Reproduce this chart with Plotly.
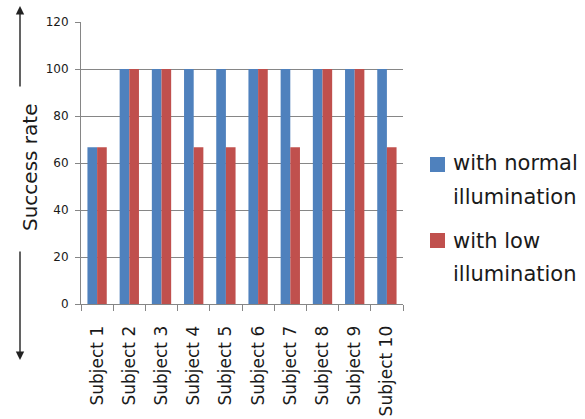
import plotly.graph_objects as go

categories = ["Subject 1", "Subject 2", "Subject 3", "Subject 4", "Subject 5",
              "Subject 6", "Subject 7", "Subject 8", "Subject 9", "Subject 10"]
normal = [66.67, 100, 100, 100, 100, 100, 100, 100, 100, 100]
low = [66.67, 100, 100, 66.67, 66.67, 100, 66.67, 100, 100, 66.67]
y_ticks = [0, 20, 40, 60, 80, 100, 120]
series_names = ["with normal", "with low"]
series_colors = ["#4F81BD", "#C0504D"]

FONT = "DejaVu Sans, Open Sans, sans-serif"
TXT = "#1a1a1a"

fig = go.Figure()
fig.add_trace(go.Bar(x=categories, y=normal, name=series_names[0] + " illumination",
                     marker=dict(color=series_colors[0], line=dict(width=0))))
fig.add_trace(go.Bar(x=categories, y=low, name=series_names[1] + " illumination",
                     marker=dict(color=series_colors[1], line=dict(width=0))))

W, H = 585, 419
L, R, T, B = 81, 182, 22, 115
pw, ph = W - L - R, H - T - B

def px_x(x):
    return (x - L) / pw

def px_y(y):
    return (H - B - y) / ph

fig.update_layout(
    width=W, height=H,
    margin=dict(l=L, r=R, t=T, b=B, autoexpand=False),
    paper_bgcolor="white", plot_bgcolor="white",
    barmode="group", bargap=0.4, bargroupgap=0,
    font=dict(family=FONT, color=TXT),
    showlegend=False,
    xaxis=dict(showline=True, linecolor="#868686", linewidth=1,
               ticks="outside", tickcolor="#868686", ticklen=6, tickson="boundaries",
               tickangle=-90, tickfont=dict(size=17, color=TXT),
               ticklabelstandoff=14, showgrid=False, automargin=False),
    yaxis=dict(range=[0, 120], tickvals=y_ticks, showline=True, linecolor="#868686",
               linewidth=1, ticks="outside", tickcolor="#868686", ticklen=5,
               showgrid=True, gridcolor="#868686", gridwidth=1,
               tickfont=dict(size=12, color=TXT), zeroline=False,
               ticklabelstandoff=4, automargin=False),
)

# y-axis title with arrows
fig.add_annotation(xref="paper", yref="paper", x=px_x(16), y=px_y(167),
                   text="Success rate", textangle=-90, showarrow=False,
                   font=dict(size=20, color=TXT))
fig.add_annotation(xref="paper", yref="paper", x=px_x(20), y=px_y(6),
                   ax=0, ay=82, text="", showarrow=True, arrowhead=2,
                   arrowwidth=1.4, arrowsize=1.2, arrowcolor="#222222")
fig.add_annotation(xref="paper", yref="paper", x=px_x(20), y=px_y(360),
                   ax=0, ay=-110, text="", showarrow=True, arrowhead=2,
                   arrowwidth=1.4, arrowsize=1.2, arrowcolor="#222222")

# legend (manual, to match wrapped two-line entries)
sq_tops = [157, 233]
line_centers = [(163, 197), (241, 274)]
for i in range(2):
    fig.add_shape(type="rect", xref="paper", yref="paper",
                  x0=px_x(430), x1=px_x(445), y0=px_y(sq_tops[i] + 15), y1=px_y(sq_tops[i]),
                  fillcolor=series_colors[i], line=dict(width=0))
    for text, yc in zip([series_names[i], "illumination"], line_centers[i]):
        fig.add_annotation(xref="paper", yref="paper", x=px_x(451), y=px_y(yc),
                           xanchor="left", yanchor="middle", text=text,
                           showarrow=False, font=dict(size=21, color=TXT))

fig.write_html("out.html")
